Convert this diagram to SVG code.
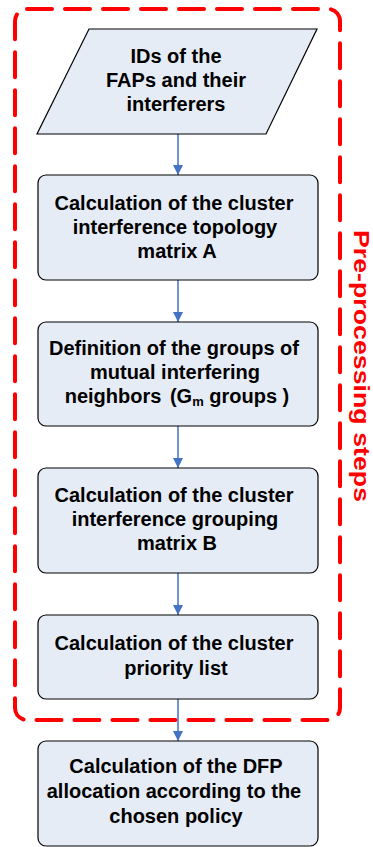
<svg xmlns="http://www.w3.org/2000/svg" width="373" height="847" viewBox="0 0 373 847">
<style>
.box{fill:#E6ECF6;stroke:#000;stroke-width:1.2}
.t{font-family:"Liberation Sans",Arial,sans-serif;font-weight:bold;font-size:20px;fill:#000;text-anchor:middle}
.con{stroke:#4472C4;stroke-width:1.5;fill:none}
.lbl{font-family:"Liberation Sans",Arial,sans-serif;font-weight:bold;font-size:22px;fill:#FF0000;text-anchor:middle}
</style>
<defs>
<marker id="ah" markerWidth="10" markerHeight="10" refX="10" refY="5" orient="auto" markerUnits="userSpaceOnUse">
<path d="M0,0 L10,5 L0,10 z" fill="#4472C4"/>
</marker>
</defs>
<g id="group-preprocessing">
<rect x="15" y="9" width="325" height="711" rx="12" ry="12" fill="none" stroke="#FF0000" stroke-width="4" stroke-dasharray="25 13" stroke-linecap="round"/>
<text class="lbl" transform="translate(354,366) rotate(90)" textLength="272" lengthAdjust="spacingAndGlyphs">Pre-processing steps</text>
</g>
<g id="connectors">
<line class="con" x1="178" y1="134" x2="178" y2="175" marker-end="url(#ah)"/>
<line class="con" x1="178" y1="280" x2="178" y2="322" marker-end="url(#ah)"/>
<line class="con" x1="178" y1="426" x2="178" y2="468" marker-end="url(#ah)"/>
<line class="con" x1="178" y1="573" x2="178" y2="615" marker-end="url(#ah)"/>
<line class="con" x1="178" y1="699" x2="178" y2="741" marker-end="url(#ah)"/>
</g>
<g id="n0">
<polygon class="box" points="89,29 317,29 266,134 37,134"/>
<text class="t" x="176" y="63">IDs of the</text>
<text class="t" x="176" y="87">FAPs and their</text>
<text class="t" x="176" y="111">interferers</text>
</g>
<g id="n1">
<rect class="box" x="38" y="175" width="280" height="105" rx="8"/>
<text class="t" x="174" y="210">Calculation of the cluster</text>
<text class="t" x="175" y="234">interference topology</text>
<text class="t" x="177" y="258">matrix A</text>
</g>
<g id="n2">
<rect class="box" x="38" y="322" width="280" height="104" rx="8"/>
<text class="t" x="174" y="355">Definition of the groups of</text>
<text class="t" x="175" y="379">mutual interfering</text>
<text class="t" x="177" y="403">neighbors <tspan dx="3">(G</tspan><tspan font-size="13" dy="3">m</tspan><tspan dy="-3"> groups )</tspan></text>
</g>
<g id="n3">
<rect class="box" x="38" y="468" width="280" height="105" rx="8"/>
<text class="t" x="174" y="502">Calculation of the cluster</text>
<text class="t" x="175" y="526">interference grouping</text>
<text class="t" x="177" y="550">matrix B</text>
</g>
<g id="n4">
<rect class="box" x="38" y="615" width="280" height="84" rx="8"/>
<text class="t" x="174" y="650">Calculation of the cluster</text>
<text class="t" x="176" y="675">priority list</text>
</g>
<g id="n5">
<rect class="box" x="38" y="741" width="280" height="105" rx="8"/>
<text class="t" x="176" y="773">Calculation of the DFP</text>
<text class="t" x="174" y="798">allocation according to the</text>
<text class="t" x="176" y="823">chosen policy</text>
</g>
</svg>
